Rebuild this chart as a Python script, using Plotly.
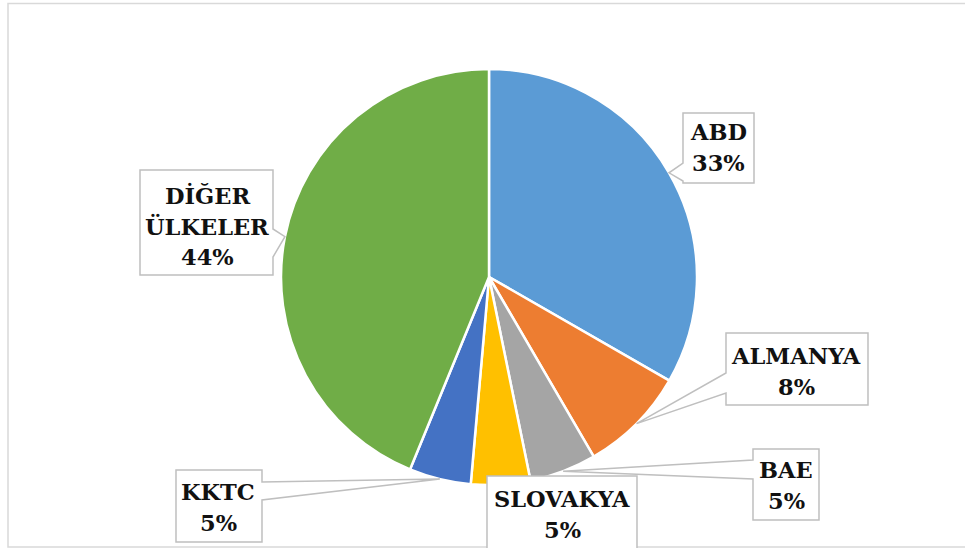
import math
import plotly.graph_objects as go

# ---- data ----
labels = ["ABD", "ALMANYA", "BAE", "SLOVAKYA", "KKTC", "DİĞER ÜLKELER"]
label_lines = [["ABD"], ["ALMANYA"], ["BAE"], ["SLOVAKYA"], ["KKTC"], ["DİĞER", "ÜLKELER"]]
values = [33.3, 8.3, 5.2, 4.6, 4.8, 43.8]
colors = ["#5B9BD5", "#ED7D31", "#A5A5A5", "#FFC000", "#4472C4", "#70AD47"]

# ---- layout constants (pixels) ----
W, H = 965, 548
CX, CY, R = 489, 277, 208
FONT = "DejaVu Serif"
FONT_SIZE = 22.5
PITCH = 31

def px(x):
    return x / W

def py(y):
    return 1 - y / H

# callout boxes: (x0, y0, x1, y1), pointer side, pointer base (b1, b2), text centre
callouts = {
    "ABD": dict(box=(683, 113, 754, 183), side="left", base=(163, 181), text=(718, 148)),
    "ALMANYA": dict(box=(726, 333, 868, 405), side="left", base=(373, 393), text=(796, 371)),
    "BAE": dict(box=(753, 449, 819, 520), side="left", base=(460, 479), text=(786, 485)),
    "SLOVAKYA": dict(box=(487, 476, 637, 562), side=None, base=None, text=(562, 514)),
    "KKTC": dict(box=(176, 470, 262, 542), side="right", base=(482, 500), text=(218, 507)),
    "DİĞER ÜLKELER": dict(box=(140, 170, 273, 275), side="right", base=(229, 257), text=(207, 226)),
}

fig = go.Figure()
fig.add_trace(go.Pie(
    labels=labels,
    values=values,
    sort=False,
    direction="clockwise",
    rotation=0,
    marker=dict(colors=colors, line=dict(color="white", width=2.5)),
    textinfo="none",
    showlegend=False,
    domain=dict(x=[px(CX - R), px(CX + R)], y=[py(CY + R), py(CY - R)]),
))

# pointer tips from slice mid-angles
total = sum(values)
cum = 0
tips = {}
for lab, v in zip(labels, values):
    mid = (cum + v / 2) / total * 2 * math.pi
    cum += v
    tips[lab] = (CX + R * math.sin(mid), CY - R * math.cos(mid))

def path_from(points):
    return "M " + " L ".join(f"{px(x):.5f},{py(y):.5f}" for x, y in points) + " Z"

shapes = []
# outer chart border
shapes.append(dict(type="rect", xref="paper", yref="paper",
                   x0=px(8), x1=px(975), y0=py(547), y1=py(3.5),
                   line=dict(color="#D9D9D9", width=1.5), fillcolor="rgba(0,0,0,0)"))

for lab in labels:
    c = callouts[lab]
    x0, y0, x1, y1 = c["box"]
    tx, ty = tips[lab]
    if c["side"] == "left":
        b1, b2 = c["base"]
        pts = [(x0, y0), (x1, y0), (x1, y1), (x0, y1), (x0, b2), (tx, ty), (x0, b1)]
    elif c["side"] == "right":
        b1, b2 = c["base"]
        pts = [(x0, y0), (x1, y0), (x1, b1), (tx, ty), (x1, b2), (x1, y1), (x0, y1)]
    else:
        pts = [(x0, y0), (x1, y0), (x1, y1), (x0, y1)]
    shapes.append(dict(type="path", xref="paper", yref="paper", path=path_from(pts),
                       line=dict(color="#BFBFBF", width=1.5), fillcolor="white", layer="above"))

annotations = []
for lab, ll, v in zip(labels, label_lines, values):
    c = callouts[lab]
    x, y = c["text"]
    pct = round(v / total * 100)
    lines = ll + [f"{pct}%"]
    n = len(lines)
    for i, t in enumerate(lines):
        yy = y + (i - (n - 1) / 2) * PITCH
        annotations.append(dict(xref="paper", yref="paper", x=px(x), y=py(yy), text=f"<b>{t}</b>",
                                showarrow=False, xanchor="center", yanchor="middle", align="center",
                                font=dict(family=FONT, size=FONT_SIZE, color="#111111")))

fig.update_layout(
    width=W, height=H,
    margin=dict(l=0, r=0, t=0, b=0),
    paper_bgcolor="white",
    plot_bgcolor="white",
    shapes=shapes,
    annotations=annotations,
)

fig.write_html("out.html", config={"displayModeBar": False},
               post_script="document.body.style.margin='0';")
